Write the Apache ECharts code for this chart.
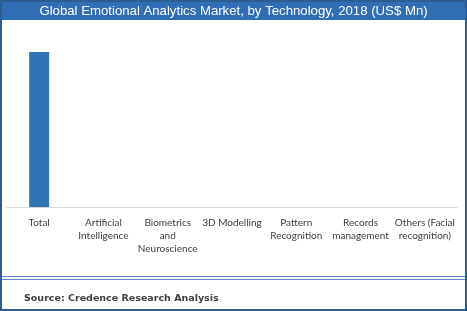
<!DOCTYPE html>
<html>
<head>
<meta charset="utf-8">
<script src="https://cdn.jsdelivr.net/npm/echarts@6/dist/echarts.min.js"></script>
<style>
  html, body { margin: 0; padding: 0; background: #fff; }
  #chart { width: 467px; height: 311px; }
</style>
</head>
<body>
<div id="chart"></div>
<script>
const categories = [
  'Total',
  'Artificial\nIntelligence',
  'Biometrics\nand\nNeuroscience',
  '3D Modelling',
  'Pattern\nRecognition',
  'Records\nmanagement',
  'Others (Facial\nrecognition)'
]
// only the total bar is drawn in the source picture
const marketValues = [87.6, null, null, null, null, null, null]
const titleText = 'Global Emotional Analytics Market, by Technology, 2018 (US$ Mn)'
const sourceText = 'Source: Credence Research Analysis'

const chart = echarts.init(document.getElementById('chart'))

const option = {
  animation: false,
  title: {
    text: titleText,
    left: 'center',
    top: 0,
    textStyle: {
      color: '#fff',
      fontFamily: 'Liberation Sans',
      fontSize: 13.2,
      fontWeight: 'normal'
    }
  },
  grid: {
    left: 7,
    right: 10,
    top: 30,
    bottom: 104
  },
  xAxis: {
    type: 'category',
    data: categories,
    axisLine: { lineStyle: { color: '#d9d9d9', width: 1 } },
    axisTick: { show: false },
    axisLabel: {
      interval: 0,
      color: '#404040',
      fontFamily: 'Lato',
      fontSize: 10,
      lineHeight: 13,
      margin: 9
    }
  },
  yAxis: {
    type: 'value',
    min: 0,
    max: 100,
    show: false
  },
  series: [
    {
      type: 'bar',
      data: marketValues,
      barWidth: 20,
      itemStyle: { color: '#2e75b6' }
    }
  ],
  graphic: [
    {
      type: 'rect',
      z: -1,
      shape: { x: 0, y: 0, width: 467, height: 20 },
      style: { fill: '#2f6eb5' }
    },
    {
      type: 'line',
      shape: { x1: 2, y1: 276.5, x2: 465, y2: 276.5 },
      style: { stroke: '#5b8ac6', lineWidth: 1 }
    },
    {
      type: 'line',
      shape: { x1: 2, y1: 279.5, x2: 465, y2: 279.5 },
      style: { stroke: '#5b8ac6', lineWidth: 1 }
    },
    {
      type: 'rect',
      shape: { x: 1, y: 1, width: 465, height: 309 },
      style: { fill: 'none', stroke: '#2c5d93', lineWidth: 2 }
    },
    {
      type: 'text',
      left: 24,
      top: 294,
      style: {
        text: sourceText,
        fill: '#404040',
        font: 'bold 9.5px "DejaVu Sans"'
      }
    }
  ]
}

option && chart.setOption(option)
</script>
</body>
</html>
